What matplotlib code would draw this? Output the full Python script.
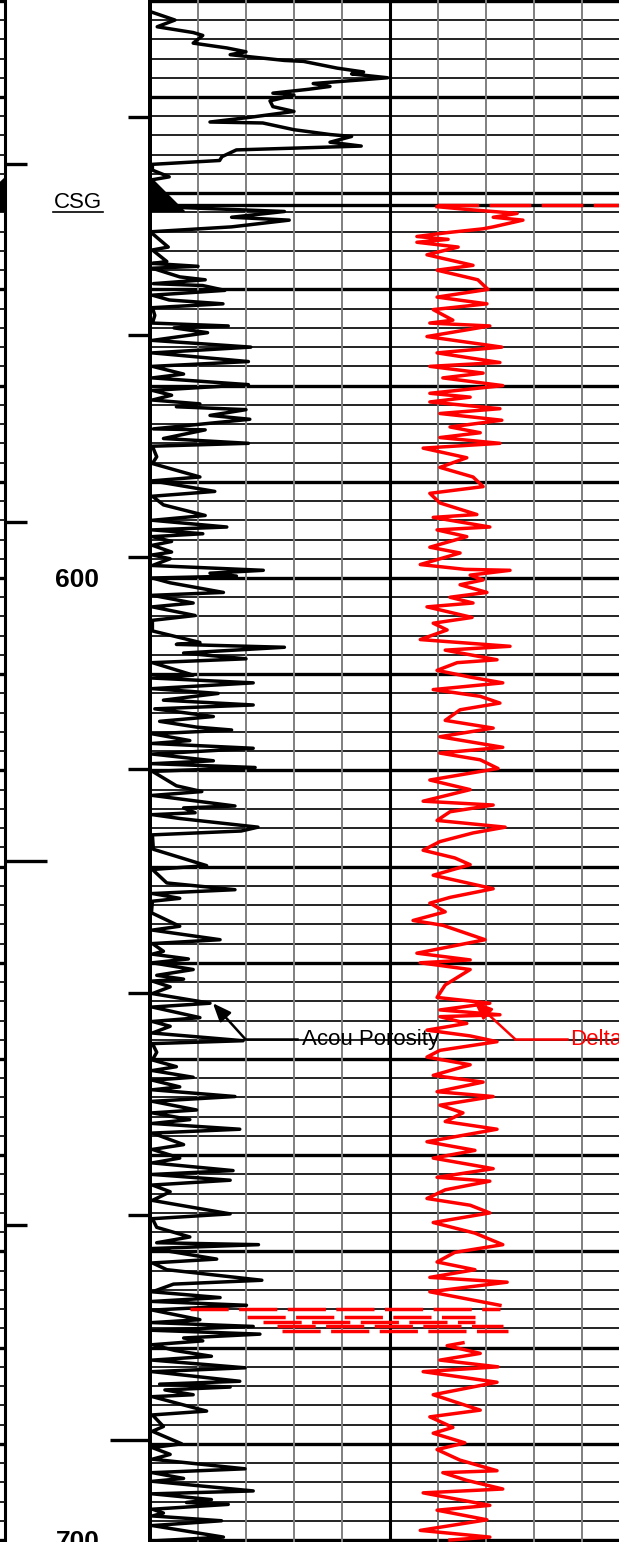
import numpy as np
import matplotlib
matplotlib.use("Agg")
import matplotlib.pyplot as plt

plt.rcParams['font.family'] = ['Liberation Sans', 'DejaVu Sans']

# ---------------- data (depth, value in track divisions) ----------------
acou_upper = [(541.2, 0.05), (542.0, 0.52), (542.7, 0.15), (543.3, 0.9), (543.6, 1.1), (544.4, 0.9),
              (544.9, 1.6), (545.3, 2.0), (545.6, 1.67), (546.2, 2.8), (546.3, 3.2), (547.0, 3.9),
              (547.4, 4.45), (547.6, 4.2), (548.0, 4.95), (548.2, 4.45), (548.6, 3.4), (548.9, 3.75),
              (549.2, 3.3), (549.6, 2.56), (549.8, 3.0), (550.4, 2.5), (551.0, 2.56), (551.5, 3.0),
              (552.1, 2.1), (552.6, 1.25), (552.7, 2.35), (553.4, 3.0), (553.9, 3.75), (554.1, 4.2),
              (554.7, 3.75), (555.1, 4.4), (555.5, 1.8), (556.2, 1.5), (556.6, 1.45), (557.0, 0.05),
              (557.6, 0.05), (558.3, 0.4), (558.6, 0.05), (561.2, 0.05), (561.5, 0.7), (561.9, 2.8),
              (562.5, 1.7), (562.8, 2.9), (563.5, 1.7), (564.0, 0.05)]
acou_b = [(564.2, 0.05), (565.6, 0.38), (565.9, 0.05), (567.1, 0.35), (567.3, 0.05), (567.6, 1.0),
          (567.8, 0.05), (568.7, 0.62), (569.0, 1.15), (569.4, 0.07), (569.6, 1.1), (570.1, 1.56),
          (570.6, 0.05), (571.1, 0.4), (571.5, 1.52), (571.9, 0.05), (572.7, 0.1), (573.5, 0.05),
          (573.8, 1.63), (574.0, 0.5), (574.5, 1.2), (575.3, 0.05), (576.0, 2.1), (576.6, 0.05),
          (577.5, 2.05), (578.0, 0.05), (578.8, 0.7), (579.2, 0.05), (579.9, 2.05), (580.5, 0.05),
          (581.0, 0.45), (581.5, 0.05), (581.9, 1.04), (582.2, 0.55), (582.5, 2.0), (583.1, 1.25),
          (583.5, 2.08), (584.5, 0.07), (584.6, 1.15), (585.5, 0.28), (586.0, 2.05), (586.3, 0.05),
          (587.4, 0.14), (588.1, 0.05), (589.5, 1.04), (589.9, 0.05), (591.0, 1.35), (591.5, 0.05),
          (592.4, 0.28), (593.5, 1.15), (594.0, 0.05), (594.7, 1.6), (595.0, 0.05), (595.4, 1.1),
          (595.7, 0.05), (596.2, 0.45), (596.6, 0.05), (597.3, 0.45), (597.6, 0.05), (598.0, 0.42),
          (598.7, 0.05), (599.2, 2.36), (599.5, 1.25), (599.8, 1.8), (600.0, 0.05)]
acou_c = [(600.5, 0.42), (601.5, 1.53), (601.8, 0.05), (602.6, 0.9), (603.0, 0.05), (603.9, 0.94),
          (604.4, 0.05), (605.5, 0.05), (606.7, 1.04), (606.9, 0.55), (607.2, 2.8), (607.8, 0.7),
          (608.4, 2.0), (608.8, 0.05), (610.1, 0.9), (610.4, 0.05), (610.9, 2.15), (611.5, 0.05),
          (612.0, 1.42), (612.7, 0.28), (613.2, 2.15), (613.6, 0.1), (614.4, 1.32), (614.9, 0.2),
          (615.5, 0.97), (615.8, 1.7), (616.2, 0.05), (616.9, 0.83), (617.2, 0.05), (617.7, 2.15),
          (618.3, 0.05), (619.0, 1.32), (619.3, 0.05), (619.7, 2.19), (620.1, 0.05), (621.6, 0.55),
          (622.2, 1.08), (622.6, 0.05), (623.7, 1.77), (623.9, 0.7), (624.4, 0.94), (624.6, 0.05),
          (625.0, 0.62), (625.9, 2.25), (626.3, 1.9), (626.7, 0.05), (628.2, 0.07), (629.9, 1.18),
          (630.3, 0.05), (631.7, 0.35), (632.4, 1.77), (632.8, 0.05), (633.3, 0.62), (633.6, 0.05),
          (634.8, 0.03), (636.2, 0.62), (636.6, 0.05), (637.6, 1.46), (638.0, 0.05), (638.8, 0.28),
          (639.1, 0.05), (639.6, 0.8), (640.0, 0.05)]
acou_d = [(640.7, 0.9), (641.3, 0.14), (641.7, 0.7), (641.9, 0.05), (642.5, 0.42), (643.2, 0.05),
          (644.2, 1.25), (644.6, 0.05), (645.7, 1.04), (646.1, 0.05), (646.6, 0.42), (647.3, 0.05),
          (648.1, 1.94), (648.4, 0.05), (649.3, 0.14), (650.1, 0.05), (650.8, 0.55), (651.2, 0.05),
          (651.9, 0.9), (652.2, 0.05), (652.9, 0.62), (653.2, 0.05), (653.9, 1.77), (654.4, 0.05),
          (655.3, 0.97), (655.6, 0.05), (656.3, 0.83), (656.7, 0.05), (657.3, 1.87), (657.7, 0.05),
          (658.9, 0.7), (659.4, 0.05), (660.3, 0.62), (660.8, 0.05), (661.6, 1.73), (662.0, 0.05),
          (662.6, 1.67), (663.1, 0.05), (663.8, 0.42), (664.7, 0.05), (666.1, 1.67), (666.6, 0.05),
          (667.5, 0.14), (668.5, 0.83), (669.1, 0.14), (669.3, 2.26), (669.7, 0.05), (670.8, 1.39),
          (671.2, 0.05), (671.9, 0.35), (673.0, 2.33), (673.4, 0.49), (674.2, 0.05), (674.8, 1.46),
          (675.2, 0.05), (675.6, 2.01), (676.1, 0.05), (677.1, 1.04), (677.4, 0.05), (677.8, 2.15),
          (678.2, 0.05), (678.6, 2.29), (679.0, 0.7), (679.3, 1.1), (679.7, 0.05)]
acou_e = [(680.3, 0.52), (680.9, 1.28), (681.3, 0.05), (682.1, 1.98), (682.5, 0.05), (683.5, 1.87),
          (683.8, 0.2), (684.1, 1.67), (684.4, 0.31), (684.9, 0.9), (685.1, 0.05), (686.6, 1.18),
          (687.0, 0.05), (688.2, 0.28), (688.7, 0.05), (690.0, 0.66), (690.4, 0.05), (691.1, 0.42),
          (691.6, 0.05), (692.6, 1.98), (693.0, 0.05), (693.6, 0.7), (693.9, 0.05), (694.9, 2.15),
          (695.2, 0.05), (695.8, 1.28), (696.1, 0.76), (696.3, 1.63), (696.8, 0.05), (697.2, 0.28),
          (697.5, 0.05), (698.0, 1.49), (698.5, 0.05), (699.7, 1.53), (700.1, 0.05)]

delta_a = [(561.4, 5.98), (561.7, 6.63), (562.1, 7.65), (562.5, 7.15), (562.8, 7.77), (563.5, 7.15),
           (563.7, 6.94), (564.1, 6.19), (564.5, 5.56), (564.8, 6.21), (565.1, 5.56), (565.6, 6.42),
           (566.4, 5.77), (567.5, 6.73), (568.0, 5.98), (569.0, 6.83), (570.0, 7.04), (570.8, 5.98),
           (571.5, 7.02), (572.1, 5.9), (573.2, 6.31), (573.5, 5.83), (573.8, 7.08), (574.9, 5.77),
           (576.0, 7.33), (576.6, 5.98), (577.6, 7.29), (578.0, 5.83), (578.7, 6.94), (579.2, 6.1),
           (580.0, 7.35), (580.8, 5.83), (581.2, 6.67), (581.7, 5.83), (582.4, 7.29), (582.9, 6.04),
           (583.6, 7.33), (584.3, 6.25), (584.9, 6.88), (585.4, 6.04), (586.0, 7.29), (586.5, 5.69),
           (587.5, 6.6), (588.5, 6.04), (589.5, 6.73), (590.5, 6.94), (591.2, 5.83), (592.2, 6.04),
           (593.4, 6.81), (593.7, 5.9), (594.7, 7.08), (595.0, 5.98), (595.7, 6.6), (596.8, 5.83),
           (597.4, 6.46), (598.6, 5.63), (599.1, 6.56), (599.2, 7.5), (599.7, 6.67)]
delta_b = [(600.2, 6.94), (600.7, 6.46), (601.5, 7.02), (602.0, 6.25), (602.6, 6.73), (603.0, 5.77),
           (604.1, 6.71), (604.7, 5.9), (605.4, 6.19), (606.4, 5.63), (607.1, 7.5), (607.5, 6.15),
           (608.5, 7.23), (608.8, 6.4), (609.6, 5.98), (610.3, 6.67), (610.9, 7.35), (611.6, 5.9),
           (612.3, 6.88), (613.0, 7.29), (613.7, 6.46), (614.8, 6.15), (615.6, 7.15), (616.5, 6.04),
           (617.6, 7.35), (618.2, 6.04), (618.9, 6.88), (619.8, 7.25), (621.0, 5.83), (622.0, 6.67),
           (623.2, 5.69), (623.6, 7.15), (624.3, 6.25), (625.2, 5.98), (625.9, 7.4), (626.5, 6.73),
           (627.4, 6.04), (628.3, 5.69), (629.1, 6.35), (629.8, 6.67), (630.9, 5.9), (632.3, 7.15),
           (633.2, 6.25), (633.8, 5.83), (634.7, 6.15), (635.6, 5.48), (636.1, 6.1), (637.6, 6.98),
           (639.0, 5.56), (639.7, 6.67)]
delta_c = [(640.0, 5.63), (640.7, 6.67), (642.3, 6.15), (643.6, 5.98), (644.2, 7.08), (644.9, 6.04),
           (645.4, 7.29), (645.6, 6.04), (646.3, 6.6), (647.0, 5.77), (647.6, 6.67), (648.2, 7.23),
           (649.1, 6.04), (649.8, 5.77), (650.6, 6.67), (651.7, 5.9), (652.4, 6.94), (653.4, 5.98),
           (653.9, 7.15), (654.8, 6.04), (655.6, 6.52), (656.5, 6.15), (657.3, 7.23), (658.6, 5.77),
           (659.5, 6.77), (660.3, 5.9), (661.4, 7.15), (662.3, 5.98), (662.7, 7.08), (663.6, 6.15),
           (664.5, 5.77), (665.2, 6.67), (666.0, 7.08), (667.0, 5.9), (668.1, 6.77), (669.3, 7.35),
           (670.1, 6.35), (671.1, 5.98), (671.9, 6.77), (672.7, 5.83), (673.2, 7.44), (674.2, 5.83),
           (675.6, 7.29)]
delta_d = [(679.5, 6.52), (679.8, 6.19), (680.6, 6.88), (681.3, 6.04), (682.0, 7.25), (682.5, 5.69),
           (683.6, 7.23), (684.9, 5.9), (686.5, 6.88), (687.2, 5.83), (688.3, 6.31), (688.9, 5.9),
           (689.9, 6.56), (690.6, 5.98), (691.7, 6.46), (692.8, 7.23), (693.0, 6.1), (693.8, 6.6),
           (694.7, 7.35), (695.1, 5.69), (696.4, 7.08), (696.9, 5.98), (697.9, 7.02), (699.0, 5.63),
           (699.7, 7.08), (700.0, 6.25)]

# dashed (wrapped) Delta segments
delta_wrap_depth = [676.0, 676.8, 677.3, 677.8, 678.3]
delta_wrap_left = [0.83, 2.02, 2.35, 2.65, 2.75]
delta_wrap_right = [7.29, 6.77, 6.77, 7.35, 7.46]

csg_depth = 561.2
csg_shoe_top = 558.3
csg_shoe_bottom = 561.8
csg_shoe_width = 0.71
delta_csg_start = 5.98

depth_labels = [600, 700]
right_tick_depths = [552.1, 574.7, 597.8, 619.9, 643.1, 666.2, 689.6]
left_tick_depths = [557.0, 594.2, 629.4, 667.3]

# ---------------- figure / layout ----------------
W, H = 619, 1542
PX = 9.62
D_TOP = 540 - 0.8 / PX
D_BOT = 540 + (H - 0.8) / PX

fig = plt.figure(figsize=(W / 100, H / 100), dpi=100)

ax = fig.add_axes([150 / W, 0, 480 / W, 1])
ax.set_xlim(0, 10)
ax.set_ylim(D_BOT, D_TOP)
ax.axis('off')

axd = fig.add_axes([5 / W, 0, 145 / W, 1])
axd.set_xlim(5, 150)
axd.set_ylim(D_BOT, D_TOP)
axd.axis('off')

axp = fig.add_axes([-60 / W, 0, 65 / W, 1])
axp.set_xlim(0, 1)
axp.set_ylim(D_BOT, D_TOP)
axp.axis('off')

# horizontal grids
for a in (ax, axp):
    for d in np.arange(540, 702, 2):
        thick = (d % 10 == 0)
        a.axhline(d, color='black' if thick else '#111111', lw=2.4 if thick else 1.3, zorder=1)

# vertical grid of main track
for v in range(0, 11):
    if v in (0, 5, 10):
        ax.axvline(v, color='black', lw=2.2 if v else 2.8, zorder=2, clip_on=False)
    else:
        ax.axvline(v, color='#7f7f7f', lw=1.4, zorder=1)

# casing depth line
ax.axhline(csg_depth, color='black', lw=2.4, zorder=2)

# depth track borders
axd.axvline(5, color='black', lw=2.2, clip_on=False, zorder=3)
axd.axvline(150, color='black', lw=2.8, clip_on=False, zorder=3)

for d, L in zip(right_tick_depths, [22, 22, 22, 22, 22, 22, 40]):
    axd.plot([150 - L, 150], [d, d], color='black', lw=2.4, solid_capstyle='butt')
for d, L in zip(left_tick_depths, [22, 22, 42, 22]):
    axd.plot([5, 5 + L], [d, d], color='black', lw=2.4, solid_capstyle='butt')

for dl in depth_labels:
    axd.text(77.5, dl + 0.94, str(dl), fontsize=19, fontweight='bold', ha='center', va='baseline')

axd.text(78, 561.57, 'CSG', fontsize=16, ha='center', va='baseline')
axd.plot([53, 103], [562.0, 562.0], color='black', lw=1.2)

# casing shoe symbols
ax.fill([0, 0, csg_shoe_width], [csg_shoe_top, csg_shoe_bottom, csg_shoe_bottom],
        color='black', zorder=4, clip_on=False)
axp.fill([1, 1, 1 - 0.55], [csg_shoe_top, csg_shoe_bottom, csg_shoe_bottom],
         color='black', zorder=4)

# curves
for seg in (acou_upper, acou_b + acou_c + acou_d + acou_e):
    arr = np.array(seg)
    ax.plot(arr[:, 1], arr[:, 0], color='black', lw=2.5, zorder=5)

for seg in (delta_a + delta_b + delta_c, delta_d):
    arr = np.array(seg)
    ax.plot(arr[:, 1], arr[:, 0], color='#ff0000', lw=2.5, zorder=6)

ax.hlines(delta_wrap_depth, delta_wrap_left, delta_wrap_right, colors='#ff0000',
          linestyles=(0, (11, 3)), lw=2.5, zorder=6)
ax.hlines([csg_depth], [delta_csg_start], [10], colors='#ff0000',
          linestyles=(0, (12, 3)), lw=2.5, zorder=6)

# annotations
ann_depth = 647.9
ax.annotate('', xy=(1.31, 644.2), xytext=(1.98, ann_depth),
            arrowprops=dict(arrowstyle='-|>,head_length=1.1,head_width=0.45', color='black',
                            lw=1.8, shrinkA=0, shrinkB=0), zorder=7)
ax.plot([1.98, 3.06], [ann_depth, ann_depth], color='black', lw=1.8, zorder=7)
ax.text(3.17, 648.5, 'Acou Porosity', fontsize=16, ha='left', va='baseline', color='black', zorder=7)

ax.annotate('', xy=(6.75, 644.0), xytext=(7.6, ann_depth),
            arrowprops=dict(arrowstyle='-|>,head_length=1.1,head_width=0.45', color='#ff0000',
                            lw=1.8, shrinkA=0, shrinkB=0), zorder=7)
ax.plot([7.6, 8.69], [ann_depth, ann_depth], color='#ff0000', lw=1.8, zorder=7)
ax.text(8.75, 648.5, 'Delta', fontsize=16, ha='left', va='baseline', color='#ff0000', zorder=7)

fig.savefig('out.png', dpi=100)
